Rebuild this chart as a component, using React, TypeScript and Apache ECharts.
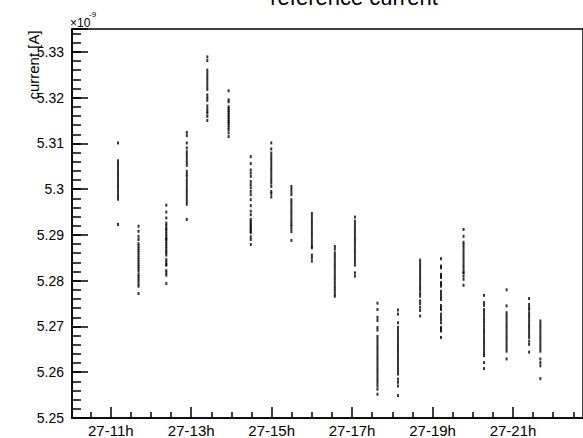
import React, { useEffect, useRef } from "react";
import * as echarts from "echarts";

// Time of each measurement run (hours on day 27)
const clusterTimes = [
  11.18, 11.69, 12.38, 12.89, 13.4, 13.93, 14.48, 14.99, 15.49, 16.0, 16.57,
  17.07, 17.63, 18.14, 18.69, 19.21, 19.77, 20.28, 20.84, 21.4, 21.68,
];

// Reference current readings (×10^-9 A) per run
const clusterValues: number[][] = [
  [5.3101, 5.3062, 5.3056, 5.305, 5.3044, 5.3038, 5.3032, 5.3026, 5.302, 5.3014, 5.3008, 5.3002, 5.2996, 5.299, 5.2984, 5.2978, 5.2923],
  [5.2919, 5.2908, 5.2897, 5.289, 5.2881, 5.2876, 5.2871, 5.2866, 5.2861, 5.2856, 5.2851, 5.2846, 5.2841, 5.2836, 5.2831, 5.2826, 5.2821, 5.2814, 5.2809, 5.2804, 5.2799, 5.2793, 5.2788, 5.2772],
  [5.2965, 5.295, 5.2937, 5.2926, 5.2921, 5.2915, 5.2912, 5.2907, 5.2902, 5.2897, 5.2892, 5.289, 5.2885, 5.288, 5.2875, 5.287, 5.2865, 5.2861, 5.2856, 5.2846, 5.2841, 5.2836, 5.2834, 5.2822, 5.2817, 5.2812, 5.2794],
  [5.3124, 5.3117, 5.3101, 5.309, 5.3082, 5.3076, 5.307, 5.3064, 5.3058, 5.3052, 5.3039, 5.3033, 5.3028, 5.3021, 5.3015, 5.3009, 5.3003, 5.2997, 5.2991, 5.2985, 5.2979, 5.2973, 5.2967, 5.2934],
  [5.3289, 5.3281, 5.326, 5.3254, 5.3248, 5.3242, 5.3236, 5.323, 5.3224, 5.3218, 5.3206, 5.32, 5.3194, 5.3182, 5.3176, 5.317, 5.3166, 5.3159, 5.315],
  [5.3215, 5.3195, 5.3191, 5.318, 5.3176, 5.3172, 5.3168, 5.3164, 5.316, 5.3156, 5.3152, 5.3148, 5.3144, 5.314, 5.3135, 5.313, 5.3123, 5.3115],
  [5.3071, 5.3056, 5.3042, 5.3035, 5.3028, 5.3017, 5.301, 5.3003, 5.2995, 5.2988, 5.2977, 5.2964, 5.2952, 5.2944, 5.2934, 5.293, 5.2926, 5.2922, 5.2919, 5.2915, 5.2912, 5.2908, 5.2905, 5.2896, 5.289, 5.2879],
  [5.3101, 5.3088, 5.3079, 5.3073, 5.3067, 5.3061, 5.3055, 5.3049, 5.3043, 5.3037, 5.3031, 5.3025, 5.3019, 5.3013, 5.3006, 5.2995, 5.299, 5.2983],
  [5.3006, 5.3, 5.2994, 5.2988, 5.2977, 5.2971, 5.2965, 5.2959, 5.2953, 5.2947, 5.2941, 5.2935, 5.2929, 5.2923, 5.2919, 5.2913, 5.2907, 5.2888],
  [5.2947, 5.2941, 5.2935, 5.2929, 5.2923, 5.2917, 5.2911, 5.2905, 5.2899, 5.2893, 5.2887, 5.2881, 5.2875, 5.2872, 5.2856, 5.285, 5.2843],
  [5.2875, 5.2869, 5.2861, 5.2855, 5.2849, 5.2843, 5.2837, 5.2831, 5.2825, 5.2819, 5.2813, 5.2807, 5.2801, 5.2795, 5.2789, 5.2783, 5.2777, 5.2771, 5.2766],
  [5.2939, 5.293, 5.2924, 5.2918, 5.2912, 5.2906, 5.29, 5.2894, 5.2888, 5.2882, 5.2876, 5.287, 5.2864, 5.2858, 5.2852, 5.2846, 5.284, 5.2834, 5.2817, 5.281],
  [5.2751, 5.2737, 5.272, 5.2713, 5.2698, 5.2692, 5.2678, 5.2672, 5.2666, 5.266, 5.2654, 5.2648, 5.2642, 5.2636, 5.263, 5.2624, 5.2618, 5.2612, 5.2606, 5.26, 5.2594, 5.2588, 5.2582, 5.2576, 5.257, 5.2563, 5.2552],
  [5.2736, 5.2727, 5.2708, 5.2698, 5.2692, 5.2686, 5.268, 5.2674, 5.2668, 5.2662, 5.2656, 5.265, 5.2644, 5.2638, 5.2632, 5.2626, 5.262, 5.2614, 5.2608, 5.2602, 5.2596, 5.2585, 5.2578, 5.257, 5.2549],
  [5.2845, 5.2839, 5.2833, 5.2827, 5.2821, 5.2815, 5.2809, 5.2803, 5.2797, 5.2791, 5.2785, 5.2779, 5.2772, 5.2766, 5.2756, 5.275, 5.2742, 5.2735, 5.2723],
  [5.2848, 5.2832, 5.2828, 5.2814, 5.281, 5.2807, 5.2796, 5.2792, 5.2788, 5.2777, 5.2771, 5.2765, 5.2759, 5.2746, 5.2741, 5.2737, 5.2727, 5.2721, 5.2715, 5.2708, 5.2698, 5.2694, 5.269, 5.2676],
  [5.2912, 5.2897, 5.2884, 5.2879, 5.2873, 5.2867, 5.2861, 5.2855, 5.2849, 5.2843, 5.2837, 5.2831, 5.2825, 5.2819, 5.2817, 5.281, 5.2803, 5.279],
  [5.2768, 5.2752, 5.2746, 5.2737, 5.2731, 5.2725, 5.2719, 5.2713, 5.2707, 5.2701, 5.2695, 5.2689, 5.2683, 5.2677, 5.2671, 5.2665, 5.2659, 5.2653, 5.2647, 5.2641, 5.2636, 5.2621, 5.2608],
  [5.278, 5.2745, 5.273, 5.2724, 5.2718, 5.2712, 5.2706, 5.27, 5.2694, 5.2688, 5.2682, 5.2676, 5.267, 5.2664, 5.2658, 5.2652, 5.2646, 5.2629],
  [5.2761, 5.2748, 5.2742, 5.2737, 5.273, 5.2724, 5.2718, 5.2712, 5.2706, 5.27, 5.2694, 5.2688, 5.2682, 5.2676, 5.2668, 5.2661, 5.2644],
  [5.2712, 5.2706, 5.27, 5.2694, 5.2688, 5.2682, 5.2676, 5.267, 5.2664, 5.2658, 5.2652, 5.2646, 5.2629, 5.2621, 5.2614, 5.2586],
];

const xMajorTicks = [11, 13, 15, 17, 19, 21];
const xMinorTicks = [
  10.5, 11.5, 12, 12.5, 13.5, 14, 14.5, 15.5, 16, 16.5, 17.5, 18, 18.5, 19.5,
  20, 20.5, 21.5, 22, 22.5,
];

const X_MIN = 10.036;
const X_MAX = 22.74;
const Y_MIN = 5.25;
const Y_MAX = 5.335;
const FONT = '"Liberation Sans", Arial, Helvetica, sans-serif';

export default function App() {
  const ref = useRef<HTMLDivElement>(null);

  useEffect(() => {
    if (!ref.current) return;
    const chart = echarts.init(ref.current, undefined, { renderer: "svg" });
    const data: number[][] = [];
    clusterTimes.forEach((t, i) => {
      clusterValues[i].forEach((v) => data.push([t, v]));
    });
    chart.setOption({
      animation: false,
      grid: {
        left: 72,
        right: -3,
        top: 29,
        bottom: 19,
        show: true,
        borderColor: "#000",
        borderWidth: 1.5,
        backgroundColor: "transparent",
      },
      xAxis: [
        {
          type: "value",
          min: X_MIN,
          max: X_MAX,
          position: "bottom",
          axisLine: { show: true, onZero: false, lineStyle: { color: "#000", width: 1.5 } },
          axisTick: {
            show: true,
            inside: true,
            length: 11,
            customValues: xMajorTicks,
            lineStyle: { color: "#000", width: 1.5 },
          },
          axisLabel: {
            customValues: xMajorTicks,
            formatter: (v: number) => `27-${v}h`,
            color: "#000",
            fontFamily: FONT,
            fontSize: 15,
            margin: 5,
          },
          splitLine: { show: false },
        },
        {
          type: "value",
          min: X_MIN,
          max: X_MAX,
          position: "bottom",
          axisLine: { show: false, onZero: false },
          axisTick: {
            show: true,
            inside: true,
            length: 6,
            customValues: xMinorTicks,
            lineStyle: { color: "#000", width: 1.5 },
          },
          axisLabel: { show: false },
          splitLine: { show: false },
        },
      ],
      yAxis: [
        {
          type: "value",
          min: Y_MIN,
          max: Y_MAX,
          interval: 0.01,
          position: "left",
          axisLine: { show: true, onZero: false, lineStyle: { color: "#000", width: 1.5 } },
          axisTick: {
            show: true,
            inside: true,
            length: 16,
            lineStyle: { color: "#000", width: 1.5 },
          },
          axisLabel: {
            formatter: (v: number) =>
              v > Y_MAX - 0.001 ? "" : String(Number(v.toFixed(2))),
            color: "#000",
            fontFamily: FONT,
            fontSize: 14,
            margin: 8,
          },
          splitLine: { show: false },
        },
        {
          type: "value",
          min: Y_MIN,
          max: Y_MAX,
          interval: 0.002,
          position: "left",
          axisLine: { show: false, onZero: false },
          axisTick: {
            show: true,
            inside: true,
            length: 9,
            lineStyle: { color: "#000", width: 1.5 },
          },
          axisLabel: { show: false },
          splitLine: { show: false },
        },
      ],
      graphic: [
        {
          type: "text",
          x: 354,
          y: -3,
          style: {
            text: "reference current",
            fontFamily: FONT,
            fontSize: 22,
            fill: "#000",
            align: "center",
            verticalAlign: "middle",
          },
        },
        {
          type: "text",
          x: 70,
          y: 23,
          style: {
            text: "×10",
            fontFamily: FONT,
            fontSize: 12,
            fill: "#000",
            align: "left",
            verticalAlign: "middle",
          },
        },
        {
          type: "text",
          x: 89,
          y: 14,
          style: {
            text: "-9",
            fontFamily: FONT,
            fontSize: 8,
            fill: "#000",
            align: "left",
            verticalAlign: "middle",
          },
        },
        {
          type: "text",
          x: 33,
          y: 65,
          rotation: Math.PI / 2,
          style: {
            text: "current [A]",
            fontFamily: FONT,
            fontSize: 15,
            fill: "#000",
            align: "center",
            verticalAlign: "middle",
          },
        },
      ],
      series: [
        {
          type: "scatter",
          xAxisIndex: 0,
          yAxisIndex: 0,
          symbol: "rect",
          symbolSize: [2, 3],
          itemStyle: { color: "#000" },
          silent: true,
          data,
        },
      ],
    });
    return () => chart.dispose();
  }, []);

  return (
    <div
      ref={ref}
      style={{
        position: "fixed",
        left: 0,
        top: 0,
        width: 583,
        height: 438,
        background: "#fff",
      }}
    />
  );
}
